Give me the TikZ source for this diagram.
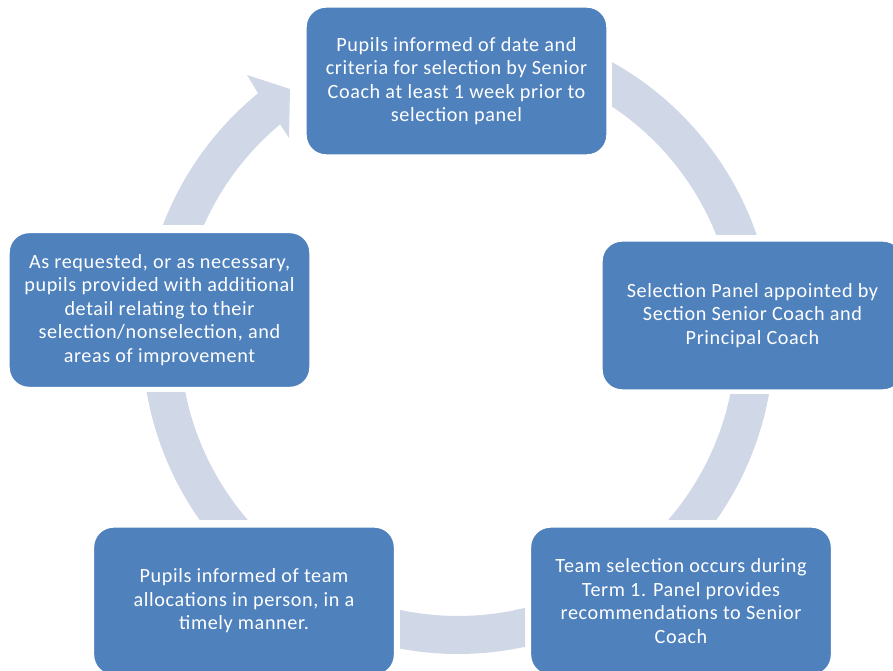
\documentclass[tikz,border=0pt]{standalone}
\usepackage{fontspec}
\setmainfont{Carlito}[LetterSpace=3]
\usetikzlibrary{calc}
\definecolor{boxblue}{HTML}{4F81BD}
\definecolor{arrowfill}{HTML}{D0D8E8}
\tikzset{
  cyclebox/.style={fill=boxblue, draw=white, line width=0.8pt, rounded corners=0.4cm,
    minimum width=6.02cm, minimum height=2.96cm, text=white, align=center,
    font=\fontsize{11.5}{13.4}\selectfont, inner sep=0pt},
  band/.style={fill=arrowfill, draw=none}
}
\begin{document}
\begin{tikzpicture}[x=0.02cm,y=0.02cm]
\useasboundingbox (0,0) rectangle (893,670);
\coordinate (C) at (458,332);
% arrow 1: top -> right
\begin{scope}
\clip (612,435) rectangle (893,670);
\fill[band] ($(C)+(65:316)$) arc[start angle=65, end angle=15, radius=316]
  -- ($(C)+(15:278)$) arc[start angle=15, end angle=65, radius=278] -- cycle;
\end{scope}
% arrow 2: right -> bottom right
\begin{scope}
\clip (600,150) rectangle (893,275);
\fill[band] ($(C)+(-5:316)$) arc[start angle=-5, end angle=-45, radius=316]
  -- ($(C)+(-45:278)$) arc[start angle=-45, end angle=-5, radius=278] -- cycle;
\end{scope}
% arrow 3: bottom right -> bottom left
\begin{scope}
\clip (400,0) rectangle (525,100);
\fill[band] ($(C)+(-60:316)$) arc[start angle=-60, end angle=-120, radius=316]
  -- ($(C)+(-120:278)$) arc[start angle=-120, end angle=-60, radius=278] -- cycle;
\end{scope}
% arrow 4: bottom left -> left
\begin{scope}
\clip (0,150) rectangle (300,277);
\fill[band] ($(C)+(-135:316)$) arc[start angle=-135, end angle=-178, radius=316]
  -- ($(C)+(-178:278)$) arc[start angle=-178, end angle=-135, radius=278] -- cycle;
\end{scope}
% arrow 5: left -> top (with head)
\begin{scope}
\clip (0,445) rectangle (305,670);
\coordinate (b1) at (247,595);
\coordinate (tip) at (290,581);
\coordinate (b2) at (289,532);
\fill[band] ($(C)+(170:316)$) arc[start angle=170, end angle=129.25, radius=316]
  -- (b1) -- (tip) -- (b2) -- ($(C)+(129.78:278)$)
  arc[start angle=129.78, end angle=170, radius=278] -- cycle;
\end{scope}
% boxes
\node[cyclebox] (n1) at (456.5,589) {Pupils informed of date and\\criteria for selection by Senior\\Coach at least 1 week prior to\\selection panel};
\node[cyclebox, minimum height=2.98cm] (n2) at (752.5,354.5) {Selection Panel appointed by\\Section Senior Coach and\\Principal Coach};
\node[cyclebox] (n3) at (681,69) {Team selection occurs during\\Term 1. Panel provides\\recommendations to Senior\\Coach};
\node[cyclebox] (n4) at (244,69) {Pupils informed of team\\allocations in person, in a\\timely manner.};
\node[cyclebox, minimum height=3.1cm] (n5) at (159.5,360) {As requested, or as necessary,\\pupils provided with additional\\detail relating to their\\selection/nonselection, and\\areas of improvement};
\end{tikzpicture}
\end{document}
